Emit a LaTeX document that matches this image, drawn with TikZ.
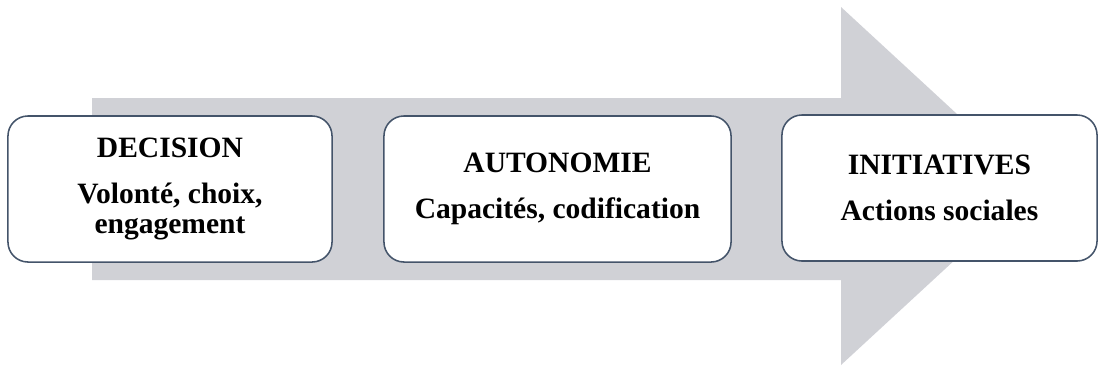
\documentclass[tikz,border=0pt]{standalone}
\usepackage{fontspec}
\setmainfont{Liberation Serif}
\usepackage{tikz}
\definecolor{fleche}{RGB}{208,209,214}
\definecolor{bord}{RGB}{68,84,106}

\begin{document}
\begin{tikzpicture}[x=0.025cm,y=-0.025cm,
  every node/.style={draw=bord,line width=1.1pt,fill=white,rounded corners=0.5cm,inner sep=0pt,minimum height=3.65cm,align=center,font=\fontsize{21}{21.5}\selectfont\bfseries}]
            \useasboundingbox (0,0) rectangle (1098,369);
            \fill[fleche] (92,98) -- (841,98) -- (841,7) -- (1035,186) -- (841,365) -- (841,280) -- (92,280) -- cycle;

            \node[minimum width=8.1cm] (decision) at (170,189) {DECISION\\[11pt]Volonté, choix,\\engagement};
            \node[minimum width=8.675cm] (autonomie) at (557.5,189) {AUTONOMIE\\[11pt]Capacités, codification};
            \node[minimum width=7.875cm] (initiatives) at (939.5,188) {INITIATIVES\\[11pt]Actions sociales};
        \end{tikzpicture}
\end{document}
